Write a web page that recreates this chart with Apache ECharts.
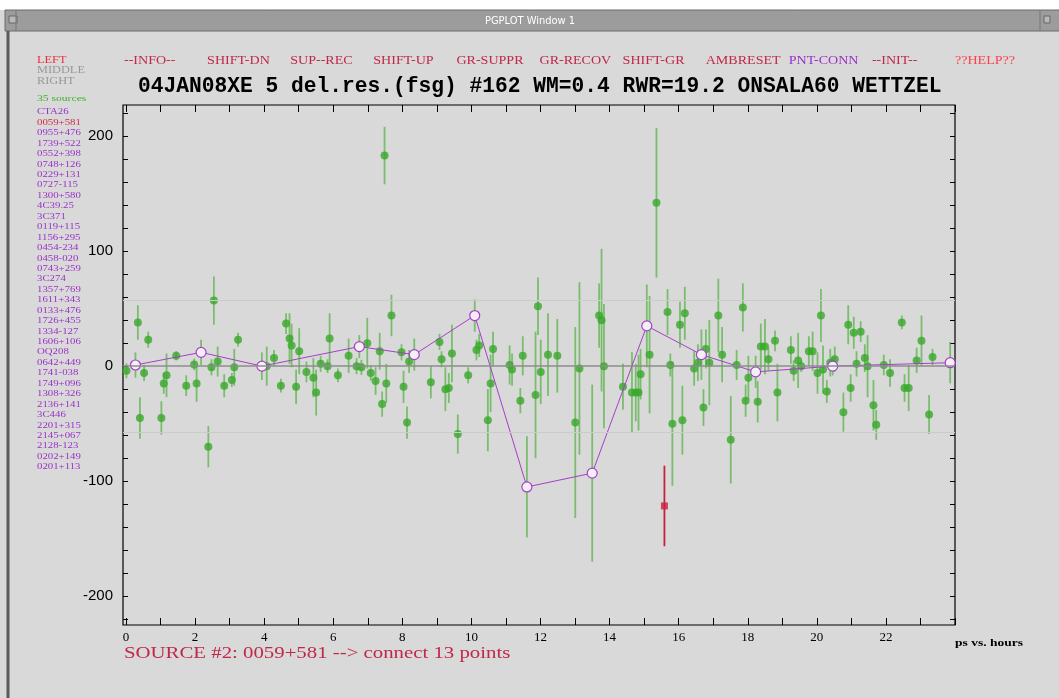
<!DOCTYPE html>
<html><head><meta charset="utf-8">
<script src="https://cdn.jsdelivr.net/npm/echarts@6/dist/echarts.min.js"></script>
<style>html,body{margin:0;padding:0;background:#d9d9d9;}#c{width:1059px;height:698px;}</style>
</head><body><div id="c"></div>
<script>
// ---- data ----
const titleText = "04JAN08XE 5 del.res.(fsg) #162 WM=0.4 RWR=19.2 ONSALA60 WETTZEL";
const menuItems = ["--INFO--","SHIFT-DN","SUP--REC","SHIFT-UP","GR-SUPPR","GR-RECOV","SHIFT-GR","AMBRESET","PNT-CONN","--INIT--","??HELP??"];
const sourceNames = ["CTA26","0059+581","0955+476","1739+522","0552+398","0748+126","0229+131","0727-115","1300+580","4C39.25","3C371","0119+115","1156+295","0454-234","0458-020","0743+259","3C274","1357+769","1611+343","0133+476","1726+455","1334-127","1606+106","OQ208","0642+449","1741-038","1749+096","1308+326","2136+141","3C446","2201+315","2145+067","2128-123","0202+149","0201+113"];
const xTickLabels = ["0","2","4","6","8","10","12","14","16","18","20","22"];
const yTickLabels = ["-200","-100","0","100","200"];
const refLevels = [57.5, -57.5];

// all other sources: hour, delay residual (ps), error (ps)
const otherHours = [0.02,0.35,0.41,0.53,0.65,1.03,1.10,1.18,1.46,1.75,1.98,2.05,2.39,2.48,2.55,2.66,2.85,3.07,3.14,3.25,4.08,4.29,4.49,4.64,4.74,4.80,4.93,5.02,5.23,5.43,5.51,5.64,5.84,5.90,6.14,6.45,6.68,6.82,6.99,7.09,7.23,7.35,7.42,7.54,7.49,7.69,
  7.98,8.20,8.04,8.14,8.83,9.08,9.14,9.25,9.35,9.44,9.61,9.91,10.15,10.23,10.48,10.56,10.63,11.11,11.18,11.42,11.49,11.86,11.93,12.01,12.22,12.49,13.01,13.13,13.70,13.77,13.84,14.39,14.65,14.76,14.84,14.90,15.16,15.36,15.68,15.76,15.82,
  16.04,16.11,16.18,16.45,16.56,16.72,16.79,16.89,17.15,17.26,17.51,17.68,17.86,17.94,18.02,18.29,18.38,18.50,18.60,18.79,18.86,19.25,19.33,19.46,19.55,19.77,19.88,20.02,20.12,20.18,20.29,20.39,20.52,20.77,20.91,20.98,21.07,21.15,21.27,21.39,21.47,21.64,21.72,21.94,22.12,22.46,22.54,22.66,22.89,23.03,23.25,23.35];
const otherDelays = [-4,38,-45,-6,23,-45,-15,-8,9,-17,1.5,-15,-70,-1,57,4,-17,-12,-1,23,0,7,-17,37,24,18,-18,13,-5,-10,-23,2,0,24,-8,9,0,-1,20,-6,-13,13,-33,-15,183,44,
  12,4,-18,-49,-14,21,6,-20,-19,11,-59,-8,14,18,-47,-15,15,1,-3,-30,9,-25,52,-5,10,9,-49,-2,44,40,0,-18,-23,-23,-23,-7,10,142,47,1,-50,
  36,-47,46,-2,3,-36,15,3,44,10,-64,1,51,-30,-10,-31,17,17,6,22,-23,14,-4,5,0,13,13,-6,44,-3,-22,3,6,-40,36,-19,29,2,30,7,0,-34,-51,1,-6,38,-19,-19,5,22,-42,8];
const otherErrors = [6.5,15,18,7,7,14.5,9,19,4,9,5,16,18,7,21,13,10,6,16,6,17,7,6,9,22,19,15,20,9,17,20,7,6,22,6,15,7,6.5,22,6.5,12,16,11,17,25,18,
  7,10,14,14,14,7,7,19,13,25,17,7,9,10,27,25,15,17,14,11,17,55,25,28,36,32,83,75,28,62,54,20,35,25,33,22,51,65,20,10,54,
  20,30,23,15,16,16,17,37,32,24,38,13,21,14,19,18,20,24,10,9,25,12,9,24,5,13,17,18,23,21,10,12,11,17,17,12,14,11,9,12,27,22,13,9,12,6,12,20,11,22,17,7];

// selected source 0059+581 (13 connected points)
const selHours = [0.28,2.18,3.94,6.76,8.35,10.10,11.61,13.50,15.08,16.66,18.23,20.46,23.86];
const selDelays = [1,12,0,17,10,44,-105,-93,35,10,-5,0,3];
const selErrors = [11,11,12,10,14,14,44,77,36,22,14,8,18];

// suppressed point of selected source
const supHours = [15.59];
const supDelays = [-121.5];
const supErrors = [35];

// ---- build ----
const GREEN = '#38a82a', GREEN_BAR = 'rgba(70,175,50,0.65)', PURPLE = '#a63fc8', RED = '#c8203c';
function pts(h, d) { return h.map((x, i) => [x, d[i]]); }
function bars(h, d, e) { return h.map((x, i) => [x, d[i] - e[i], d[i] + e[i]]); }
function errSeries(data, color, z) {
  return {
    type: 'custom', xAxisIndex: 0, yAxisIndex: 0, data: data, z: z, silent: true,
    renderItem: function (params, api) {
      const a = api.coord([api.value(0), api.value(1)]);
      const b = api.coord([api.value(0), api.value(2)]);
      return { type: 'line', shape: { x1: a[0], y1: a[1], x2: b[0], y2: b[1] }, style: { stroke: color, lineWidth: 1.8 } };
    },
    encode: { x: 0, y: [1, 2] }
  };
}
function txt(x, y, text, fill, font, sx, extra) {
  const o = { type: 'text', x: x, y: y, scaleX: sx || 1, style: Object.assign({ text: text, fill: fill, font: font, textVerticalAlign: 'middle' }, extra || {}) };
  return o;
}

const graphics = [];
// window chrome
graphics.push({ type: 'rect', shape: { x: 0, y: 0, width: 1059, height: 10 }, style: { fill: '#ffffff' } });
graphics.push({ type: 'rect', shape: { x: 5, y: 10, width: 1060, height: 21 }, style: { fill: '#9c9c9c', stroke: '#6a6a6a', lineWidth: 1 } });
graphics.push({ type: 'rect', shape: { x: 9, y: 16, width: 8, height: 7 }, style: { fill: '#b8b8b8', stroke: '#666', lineWidth: 1 } });
graphics.push({ type: 'line', shape: { x1: 16, y1: 10, x2: 16, y2: 31 }, style: { stroke: '#777', lineWidth: 1 } });
graphics.push({ type: 'rect', shape: { x: 1044, y: 16, width: 6, height: 7 }, style: { fill: '#b8b8b8', stroke: '#666', lineWidth: 1 } });
graphics.push({ type: 'line', shape: { x1: 1040, y1: 10, x2: 1040, y2: 31 }, style: { stroke: '#777', lineWidth: 1 } });
graphics.push({ type: 'line', shape: { x1: 8, y1: 31, x2: 8, y2: 698 }, style: { stroke: '#5a5a5a', lineWidth: 3 } });
graphics.push(txt(530, 21, 'PGPLOT Window 1', '#ffffff', '11px "DejaVu Sans Condensed", "DejaVu Sans"', 1, { textAlign: 'center' }));
// mouse hints
graphics.push(txt(37, 60, 'LEFT', '#ee3040', '11px "Liberation Serif"', 1.12));
graphics.push(txt(37, 70, 'MIDDLE', '#999999', '11px "Liberation Serif"', 1.12));
graphics.push(txt(37, 81, 'RIGHT', '#999999', '11px "Liberation Serif"', 1.12));
graphics.push(txt(37, 99, sourceNames.length + ' sources', '#40b030', '8px "Liberation Serif"', 1.45));
sourceNames.forEach((s, i) => {
  graphics.push(txt(37, 112 + i * 10.44, s, i === 1 ? '#d02848' : '#9a30c8', '9px "Liberation Serif"', 1.2));
});
// menu
menuItems.forEach((m, i) => {
  let col = '#c02848';
  if (m === 'PNT-CONN') col = '#9a30c8';
  if (m === '??HELP??') col = '#ff4050';
  graphics.push(txt(124 + i * 83.1, 61, m, col, '12px "Liberation Serif"', 1.17));
});
// title
graphics.push(txt(138, 86, titleText, '#000', 'bold 22px "Liberation Mono"', 0.966));
// footer texts
graphics.push(txt(124, 654, 'SOURCE #' + 2 + ': ' + sourceNames[1] + ' --> connect ' + selHours.length + ' points', '#c02848', '16px "Liberation Serif"', 1.3));
graphics.push(txt(955, 643, 'ps vs. hours', '#000', 'bold 10px "Liberation Serif"', 1.35));

const evenSet = new Set(xTickLabels);
const ySet = new Set(yTickLabels);
const option = {
  backgroundColor: '#d9d9d9',
  animation: false,
  graphic: graphics,
  grid: [
    { left: 123, top: 105, width: 832, height: 520, show: true, borderColor: '#000', borderWidth: 1.2, backgroundColor: 'transparent' },
    { left: 126, top: 105, width: 829, height: 520 },
    { left: 123, top: 113, width: 832, height: 506 }
  ],
  xAxis: [
    { gridIndex: 0, type: 'value', min: -0.08, max: 24, show: false },
    { gridIndex: 1, type: 'value', position: 'bottom', min: 0, max: 24, interval: 1,
      axisLine: { show: false }, splitLine: { show: false },
      axisTick: { show: true, inside: true, length: 7, lineStyle: { color: '#000' } },
      axisLabel: { show: true, margin: 6, color: '#000', fontFamily: 'Liberation Serif', fontSize: 13,
        formatter: v => evenSet.has(String(v)) ? String(v) : '' } },
    { gridIndex: 1, type: 'value', position: 'top', min: 0, max: 24, interval: 1,
      axisLine: { show: false }, splitLine: { show: false },
      axisTick: { show: true, inside: true, length: 7, lineStyle: { color: '#000' } },
      axisLabel: { show: false } },
    { gridIndex: 2, type: 'value', min: 0, max: 1, show: false }
  ],
  yAxis: [
    { gridIndex: 0, type: 'value', min: -225, max: 227, show: false },
    { gridIndex: 1, type: 'value', min: 0, max: 1, show: false },
    { gridIndex: 2, type: 'value', position: 'left', min: -220, max: 220, interval: 20,
      axisLine: { show: false }, splitLine: { show: false },
      axisTick: { show: true, inside: true, length: 5, lineStyle: { color: '#000' } },
      axisLabel: { show: true, margin: 10, color: '#000', fontFamily: 'Liberation Sans', fontSize: 15,
        formatter: v => ySet.has(String(v)) ? String(v) : '' } },
    { gridIndex: 2, type: 'value', position: 'right', min: -220, max: 220, interval: 20,
      axisLine: { show: false }, splitLine: { show: false },
      axisTick: { show: true, inside: true, length: 5, lineStyle: { color: '#000' } },
      axisLabel: { show: false } }
  ],
  series: [
    { type: 'line', xAxisIndex: 0, yAxisIndex: 0, data: [], silent: true, z: 1,
      markLine: { silent: true, symbol: 'none', label: { show: false },
        data: [
          { yAxis: 0, lineStyle: { color: '#8c8c8c', width: 1.5, type: 'solid' } },
          { yAxis: refLevels[0], lineStyle: { color: '#cbcbcb', width: 1.2, type: 'solid' } },
          { yAxis: refLevels[1], lineStyle: { color: '#cbcbcb', width: 1.2, type: 'solid' } }
        ] } },
    errSeries(bars(otherHours, otherDelays, otherErrors), GREEN_BAR, 2),
    errSeries(bars(selHours, selDelays, selErrors), GREEN_BAR, 2),
    errSeries(bars(supHours, supDelays, supErrors), RED, 2),
    { type: 'scatter', xAxisIndex: 0, yAxisIndex: 0, data: pts(otherHours, otherDelays), symbol: 'circle', symbolSize: 8,
      itemStyle: { color: GREEN }, z: 3, silent: true },
    { type: 'scatter', xAxisIndex: 0, yAxisIndex: 0, data: pts(supHours, supDelays), symbol: 'rect', symbolSize: 7,
      itemStyle: { color: RED }, z: 3, silent: true },
    { type: 'line', xAxisIndex: 0, yAxisIndex: 0, data: pts(selHours, selDelays), symbol: 'circle', symbolSize: 10,
      showSymbol: true, lineStyle: { color: PURPLE, width: 1 },
      itemStyle: { color: '#f4eef6', borderColor: PURPLE, borderWidth: 1.2 }, z: 4, silent: true }
  ]
};
const chart = echarts.init(document.getElementById('c'), null, { renderer: 'canvas' });
chart.setOption(option);
</script></body></html>
